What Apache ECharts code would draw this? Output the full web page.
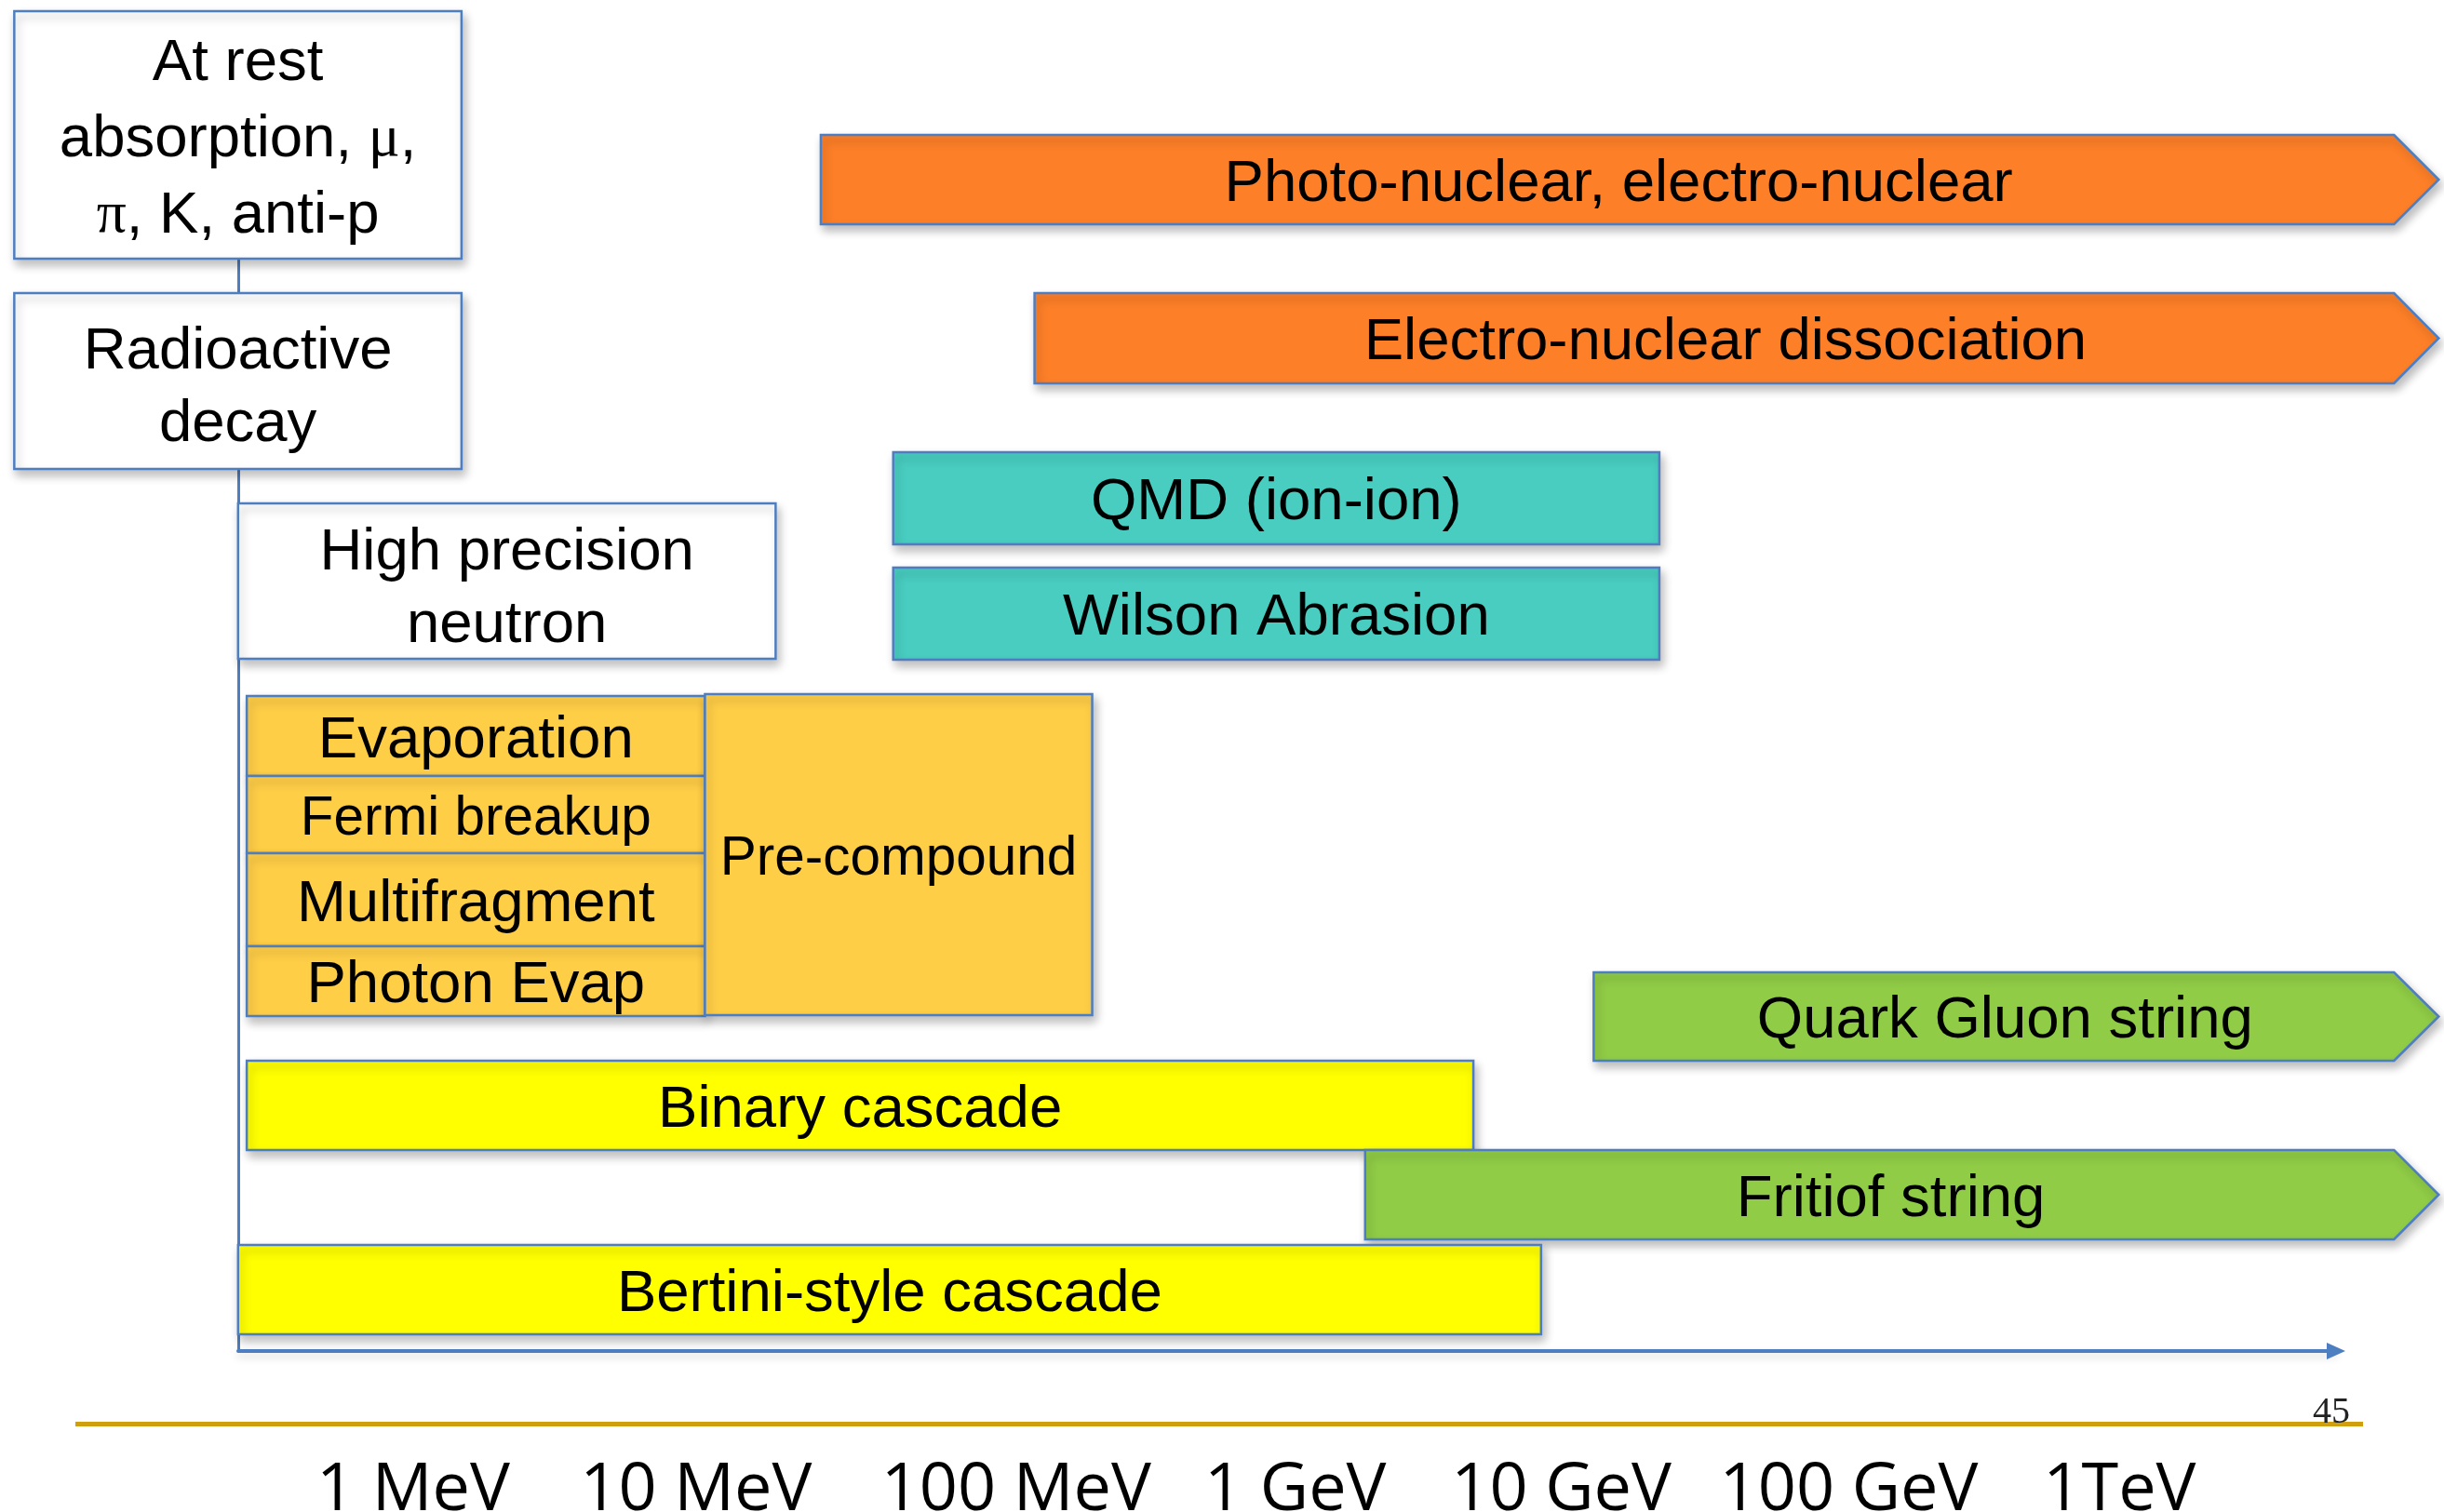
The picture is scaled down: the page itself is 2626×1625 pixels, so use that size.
<!DOCTYPE html>
<html>
<head>
<meta charset="utf-8">
<script src="https://cdn.jsdelivr.net/npm/echarts@6/dist/echarts.min.js"></script>
<style>
html,body{margin:0;padding:0;background:#ffffff;}
#chart{width:2626px;height:1625px;}
</style>
</head>
<body>
<div id="chart"></div>
<script>
// ---------------- DATA ----------------
const models = [
  'At rest\nabsorption, μ,\nπ, K, anti-p',
  'Radioactive\ndecay',
  'High precision\nneutron',
  'Evaporation',
  'Fermi breakup',
  'Multifragment',
  'Photon Evap',
  'Pre-compound',
  'Photo-nuclear, electro-nuclear',
  'Electro-nuclear dissociation',
  'QMD (ion-ion)',
  'Wilson Abrasion',
  'Quark Gluon string',
  'Binary cascade',
  'Fritiof string',
  'Bertini-style cascade'
];
// energy range of each model, in MeV
const energyLow  = [0.036, 0.036, 0.22, 0.236, 0.236, 0.236, 0.236, 9.6, 24.5, 138, 44, 44, 12700, 0.236, 2000, 0.22];
const energyHigh = [1.34, 1.34, 17, 9.6, 9.6, 9.6, 9.6, 220, 1.18e7, 1.18e7, 21600, 21600, 1.18e7, 4800, 1.18e7, 8300];
// energy axis tick labels
const tickValues = [1, 10, 100, 1000, 10000, 100000, 1000000];
const tickLabels = ['1 MeV', '10 MeV', '100 MeV', '1 GeV', '10 GeV', '100 GeV', '1TeV'];

// ---------------- LAYOUT / STYLE (not data) ----------------
const C = {
  white: '#ffffff', orange: '#fd7f28', teal: '#48cdc0', gold: '#ffce47',
  yellow: '#ffff00', green: '#90cc46', border: '#4d7ec1'
};
const layout = [
  {top: 12,   bottom: 278,  kind: 'box',   fill: C.white,  size: 63.5, lh: 82, dy: 5},
  {top: 315,  bottom: 504,  kind: 'box',   fill: C.white,  size: 63.5, lh: 78, dy: 8},
  {top: 541,  bottom: 708,  kind: 'box',   fill: C.white,  size: 63.5, lh: 78, dy: 9},
  {top: 748,  bottom: 834,  kind: 'box',   fill: C.gold,   size: 63.5, lh: 78, dy: 5},
  {top: 834,  bottom: 917,  kind: 'box',   fill: C.gold,   size: 58.5, lh: 78, dy: 5},
  {top: 917,  bottom: 1017, kind: 'box',   fill: C.gold,   size: 63.5, lh: 78, dy: 5},
  {top: 1017, bottom: 1092, kind: 'box',   fill: C.gold,   size: 63.5, lh: 78, dy: 5},
  {top: 746,  bottom: 1091, kind: 'box',   fill: C.gold,   size: 58.5, lh: 78, dy: 5},
  {top: 145,  bottom: 241,  kind: 'arrow', fill: C.orange, size: 63.5, lh: 78, dy: 5},
  {top: 315,  bottom: 412,  kind: 'arrow', fill: C.orange, size: 63.5, lh: 78, dy: 5},
  {top: 486,  bottom: 585,  kind: 'box',   fill: C.teal,   size: 63.5, lh: 78, dy: 5},
  {top: 610,  bottom: 709,  kind: 'box',   fill: C.teal,   size: 63.5, lh: 78, dy: 5},
  {top: 1045, bottom: 1140, kind: 'arrow', fill: C.green,  size: 63.5, lh: 78, dy: 5},
  {top: 1140, bottom: 1236, kind: 'box',   fill: C.yellow, size: 63.5, lh: 78, dy: 5},
  {top: 1236, bottom: 1332, kind: 'arrow', fill: C.green,  size: 63.5, lh: 78, dy: 5},
  {top: 1338, bottom: 1434, kind: 'box',   fill: C.yellow, size: 63.5, lh: 78, dy: 5}
];
// horizontal nudges (px) of the tick labels, as set out on the slide
const tickNudge = [-13, -15, 23, 17, -3, 0, -15];
const ARROW_TIP = 48;
const AXIS_MIN = 0.032073, AXIS_MAX = 1.2316e7;
const SANS = "'Liberation Sans', Arial, sans-serif";
const SERIF = "'Liberation Serif', 'DejaVu Serif', serif";
const TICK_FONT = "'Open Sans', 'Noto Sans', sans-serif";

const chart = echarts.init(document.getElementById('chart'), null, {renderer: 'canvas'});

const seriesData = models.map((m, i) => ({
  name: m,
  value: [energyLow[i], energyHigh[i], layout[i].top, layout[i].bottom]
}));

function renderItem(params, api) {
  const i = params.dataIndex;
  const L = layout[i];
  const p0 = api.coord([api.value(0), api.value(2)]);
  const p1 = api.coord([api.value(1), api.value(3)]);
  const x0 = p0[0], y0 = p0[1], x1 = p1[0], y1 = p1[1];
  const ym = (y0 + y1) / 2;
  const style = {
    fill: L.fill, stroke: C.border, lineWidth: 2.5,
    shadowBlur: 10, shadowOffsetX: 3, shadowOffsetY: 6, shadowColor: 'rgba(0,0,0,0.25)'
  };
  let shape, cx;
  if (L.kind === 'arrow') {
    const body = x1 - ARROW_TIP;
    shape = {type: 'polygon', shape: {points: [[x0, y0], [body, y0], [x1, ym], [body, y1], [x0, y1]]}, style: style};
    cx = (x0 + (body + x1) / 2) / 2;
  } else {
    shape = {type: 'rect', shape: {x: x0, y: y0, width: x1 - x0, height: y1 - y0}, style: style};
    cx = (x0 + x1) / 2;
  }
  const txt = models[i].replace(/([μπ])/g, '{g|$1}');
  return {
    type: 'group',
    children: [
      shape,
      {
        type: 'text',
        z2: 10,
        style: {
          text: txt, x: cx, y: ym + L.dy, align: 'center', verticalAlign: 'middle',
          fontFamily: SANS, fontSize: L.size, lineHeight: L.lh, fill: '#000000',
          rich: {g: {fontFamily: SERIF, fontSize: L.size, lineHeight: L.lh, fill: '#000000'}}
        }
      }
    ]
  };
}

const tickRich = {};
tickNudge.forEach((d, k) => {
  tickRich['t' + k] = {
    fontFamily: TICK_FONT, fontSize: 72, color: '#000000',
    padding: d >= 0 ? [0, 0, 0, 2 * d] : [0, -2 * d, 0, 0]
  };
});

const option = {
  backgroundColor: '#ffffff',
  animation: false,
  grid: [
    {left: 0, right: 0, top: 0, bottom: 0, containLabel: false, outerBoundsMode: 'none'},
    {left: 256, right: 116, top: 278, bottom: 173, containLabel: false, outerBoundsMode: 'none'}
  ],
  xAxis: [
    {
      gridIndex: 0, type: 'log', logBase: 10, min: AXIS_MIN, max: AXIS_MAX, splitNumber: 8,
      axisLine: {show: false}, axisTick: {show: false}, splitLine: {show: false},
      axisLabel: {
        show: true, inside: true, margin: 23, verticalAlign: 'middle',
        fontFamily: TICK_FONT, fontSize: 72, color: '#000000',
        showMinLabel: false, showMaxLabel: false,
        rich: tickRich,
        formatter: function (v) {
          for (let k = 0; k < tickValues.length; k++) {
            if (Math.abs(Math.log10(v) - Math.log10(tickValues[k])) < 1e-6) {
              return '{t' + k + '|' + tickLabels[k] + '}';
            }
          }
          return '';
        }
      }
    },
    {
      gridIndex: 1, type: 'value', min: 0, max: 1,
      axisLine: {show: true, onZero: false, symbol: ['none', 'triangle'], symbolSize: [18, 20],
        lineStyle: {color: C.border, width: 4, shadowBlur: 8, shadowOffsetY: 5, shadowColor: 'rgba(0,0,0,0.15)'}},
      axisTick: {show: false}, axisLabel: {show: false}, splitLine: {show: false}
    }
  ],
  yAxis: [
    {
      gridIndex: 0, type: 'value', min: 0, max: 1625, inverse: true, show: false
    },
    {
      gridIndex: 1, type: 'value', min: 0, max: 1,
      axisLine: {show: true, onZero: false, lineStyle: {color: C.border, width: 3}},
      axisTick: {show: false}, axisLabel: {show: false}, splitLine: {show: false}
    }
  ],
  graphic: [
    {type: 'line', z: 0, shape: {x1: 81, y1: 1530.5, x2: 2539, y2: 1530.5},
      style: {stroke: '#cf9f0e', lineWidth: 5}},
    {type: 'text', z: 0, x: 2485, y: 1538,
      style: {text: '45', font: "40px 'Liberation Serif', serif", fill: '#222222', align: 'left', verticalAlign: 'bottom'}}
  ],
  series: [
    {
      type: 'custom',
      xAxisIndex: 0, yAxisIndex: 0,
      clip: false,
      encode: {x: [0, 1], y: [2, 3]},
      renderItem: renderItem,
      data: seriesData
    }
  ]
};
chart.setOption(option);
</script>
</body>
</html>
